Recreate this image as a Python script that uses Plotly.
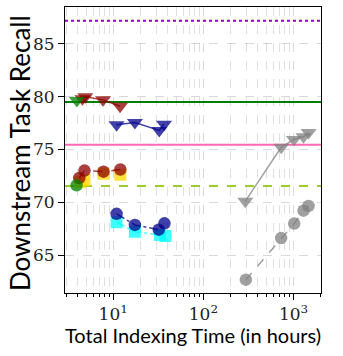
import plotly.graph_objects as go

# ---- data ----
green_tri_x = [3.95]
green_tri_y = [79.65]
red_tri_x = [4.55, 4.9, 7.7, 11.9]
red_tri_y = [79.8, 80.0, 79.7, 79.1]
blue_tri_x = [10.9, 17.4, 32.4, 36.6]
blue_tri_y = [77.35, 77.55, 76.8, 77.4]
gray_tri_x = [292, 730, 1010, 1290, 1470]
gray_tri_y = [70.1, 75.2, 75.95, 76.2, 76.6]

red_circ_x = [4.2, 4.8, 7.8, 12.0]
red_circ_y = [72.3, 73.0, 72.9, 73.1]
yellow_sq_x = [4.3, 4.8, 7.8, 12.0]
yellow_sq_y = [71.9, 72.1, 72.7, 72.6]
green_circ_x = [3.92]
green_circ_y = [71.6]
blue_circ_x = [10.9, 17.4, 32.0, 37.0]
blue_circ_y = [68.9, 67.85, 67.4, 68.0]
cyan_sq_x = [10.9, 17.4, 33.0, 38.0]
cyan_sq_y = [68.1, 67.2, 66.9, 66.8]
gray_circ_x = [296, 729, 1018, 1291, 1468]
gray_circ_y = [62.66, 66.6, 67.98, 69.2, 69.65]

ref_lines = [(87.2, "darkviolet", "dot"), (79.5, "green", "solid"),
             (75.45, "hotpink", "solid"), (71.55, "yellowgreen", "dash")]

x_tickvals = [10, 100, 1000]
x_ticktext = ["10<sup>1</sup>", "10<sup>2</sup>", "10<sup>3</sup>"]
x_minorvals = [m * d for d in (1, 10, 100, 1000) for m in range(2, 10)]
y_tickvals = [65, 70, 75, 80, 85]
x_title = "Total Indexing Time (in hours)"
y_title = "Downstream Task Recall"

RGB = {"gray": (128, 128, 128), "cyan": (0, 255, 255), "darkblue": (0, 0, 139),
       "gold": (255, 215, 0), "darkred": (139, 0, 0), "green": (0, 128, 0)}
ALPHA = 0.75

fig = go.Figure()

for yv, col, dash in ref_lines:
    fig.add_hline(y=yv, line=dict(color=col, width=2, dash=dash), layer="below")

def series(x, y, color, symbol, dash, size, lw=1.5):
    r, g, b = RGB[color]
    rgba = f"rgba({r},{g},{b},{ALPHA})"
    fig.add_trace(go.Scatter(
        x=x, y=y, mode="lines+markers",
        line=dict(color=rgba, width=lw, dash=dash),
        marker=dict(color=f"rgb({r},{g},{b})", opacity=ALPHA, symbol=symbol,
                    size=size, line=dict(width=0)),
        showlegend=False))

series(gray_circ_x, gray_circ_y, "gray", "circle", "dash", 12.5)
series(gray_tri_x, gray_tri_y, "gray", "triangle-down", "solid", 14)
series(cyan_sq_x, cyan_sq_y, "cyan", "square", "dashdot", 12)
series(blue_circ_x, blue_circ_y, "darkblue", "circle", "dashdot", 12.5)
series(yellow_sq_x, yellow_sq_y, "gold", "square", "dash", 12)
series(red_circ_x, red_circ_y, "darkred", "circle", "dash", 12.5)
series(green_circ_x, green_circ_y, "green", "circle", "solid", 12.5)
series(blue_tri_x, blue_tri_y, "darkblue", "triangle-down", "solid", 14)
series(red_tri_x, red_tri_y, "darkred", "triangle-down", "solid", 14)
series(green_tri_x, green_tri_y, "green", "triangle-down", "solid", 14)

fig.update_layout(
    width=343, height=356,
    margin=dict(l=65, r=22, t=7, b=63),
    plot_bgcolor="white", paper_bgcolor="white",
    showlegend=False,
    annotations=[
        dict(text=x_title, xref="paper", yref="paper", x=0.5, y=-0.147,
             xanchor="center", yanchor="middle", showarrow=False,
             font=dict(family="Lato", size=20, color="black")),
        dict(text=y_title, xref="paper", yref="paper", x=-0.175, y=0.49,
             xanchor="center", yanchor="middle", showarrow=False, textangle=-90,
             font=dict(family="Lato", size=26, color="black")),
    ],
)
fig.update_xaxes(
    type="log", range=[0.465, 3.305], automargin=False,
    tickmode="array", tickvals=x_tickvals, ticktext=x_ticktext,
    ticks="outside", ticklen=6, tickcolor="black",
    showline=True, linecolor="black", linewidth=1, mirror=True,
    showgrid=True, gridcolor="rgba(0,0,0,0.15)", griddash="dash",
    minor=dict(tickmode="array", tickvals=x_minorvals,
               ticks="outside", ticklen=3, tickcolor="black",
               showgrid=True, gridcolor="rgba(0,0,0,0.12)", griddash="dash"),
    tickfont=dict(family="DejaVu Serif", size=17, color="#222"),
    zeroline=False,
)
fig.update_yaxes(
    range=[61.4, 88.5], automargin=False,
    tickvals=y_tickvals,
    ticks="outside", ticklen=6, tickcolor="black",
    showline=True, linecolor="black", linewidth=1, mirror=True,
    showgrid=True, gridcolor="rgba(0,0,0,0.15)", griddash="dash",
    tickfont=dict(family="DejaVu Serif", size=17, color="#222"),
    zeroline=False,
)

fig.write_html("out.html", config={"displayModeBar": False},
               post_script="document.body.style.margin='0';")
